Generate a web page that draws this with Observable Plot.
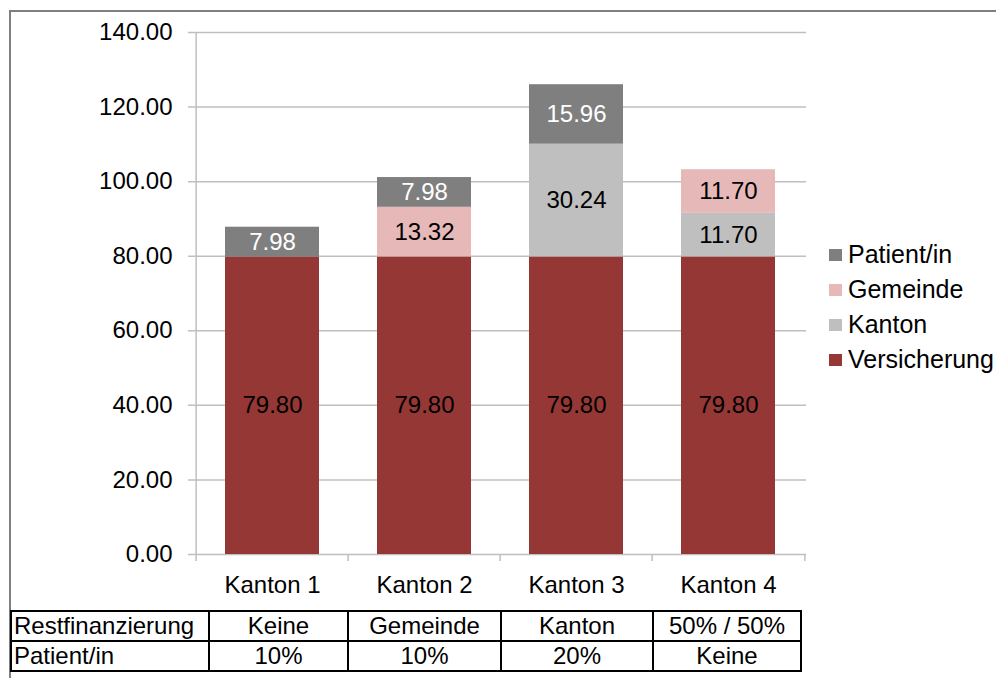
<!DOCTYPE html>
<html>
<head>
<meta charset="utf-8">
<script src="https://cdn.jsdelivr.net/npm/d3@7"></script>
<script src="https://cdn.jsdelivr.net/npm/@observablehq/plot@0.6"></script>
<style>
  html, body { margin: 0; padding: 0; background: #fff; }
  body { font-family: Arial, "Liberation Sans", sans-serif; }
  #wrap { position: relative; width: 996px; height: 678px; overflow: hidden; }
  #border { position: absolute; left: 9px; top: 10px; width: 1000px; height: 700px;
            border-top: 2px solid #7f7f7f; border-left: 2px solid #7f7f7f; }
  #chart { position: absolute; left: 0; top: 0; }
  #legend { position: absolute; left: 829px; top: 237px; font-size: 25px; color: #000; }
  #legend .row { display: flex; align-items: center; height: 35px; }
  #legend .sw { width: 13px; height: 12px; margin-right: 6px; }
  #tbl { position: absolute; left: 10px; top: 610px; border-collapse: collapse; table-layout: fixed;
         font-size: 24px; color: #000; background: #fff; }
  #tbl td { border: 2px solid #000; padding: 0 2px; height: 28px; line-height: 28px; text-align: center; white-space: nowrap; }
  #tbl td.head { text-align: left; }
</style>
</head>
<body>
<div id="wrap">
  <div id="border"></div>
  <div id="chart"></div>
  <div id="legend"></div>
  <table id="tbl"></table>
</div>
<script>
// ---- data ----
const categories = ["Kanton 1", "Kanton 2", "Kanton 3", "Kanton 4"];
const seriesNames = ["Versicherung", "Kanton", "Gemeinde", "Patient/in"]; // bottom -> top
const versicherung = [79.80, 79.80, 79.80, 79.80];
const kanton = [0, 0, 30.24, 11.70];
const gemeinde = [0, 13.32, 0, 11.70];
const patient = [7.98, 7.98, 15.96, 0];
const seriesColors = ["#953735", "#bfbfbf", "#e6b9b8", "#7f7f7f"];
const yTicks = [0, 20, 40, 60, 80, 100, 120, 140];
const tableRowLabels = ["Restfinanzierung", "Patient/in"];
const restfinanzierung = ["Keine", "Gemeinde", "Kanton", "50% / 50%"];
const patientAnteil = ["10%", "10%", "20%", "Keine"];

// ---- build stacked rows ----
const seriesValues = [versicherung, kanton, gemeinde, patient];
const rows = [];
categories.forEach((cat, i) => {
  let base = 0;
  seriesNames.forEach((s, j) => {
    const v = seriesValues[j][i];
    if (v > 0) {
      rows.push({cat, series: s, value: v, y1: base, y2: base + v, mid: base + v / 2});
      base += v;
    }
  });
});

// ---- layout ----
const W = 996, H = 600, mL = 195, mR = 190, mT = 32, mB = 46;
const step = (W - mL - mR) / categories.length;

const plot = Plot.plot({
  width: W, height: H,
  marginLeft: mL, marginRight: mR, marginTop: mT, marginBottom: mB,
  style: {fontFamily: "Arial, 'Liberation Sans', sans-serif", fontSize: "24px", color: "#000", background: "transparent", overflow: "visible"},
  x: {domain: categories, paddingInner: 0.38, paddingOuter: 0.19, label: null},
  y: {domain: [0, 140], label: null},
  color: {domain: seriesNames, range: seriesColors},
  marks: [
    Plot.ruleY(yTicks, {stroke: "#bfbfbf", strokeWidth: 1.5, insetLeft: -7}),
    Plot.ruleX([categories[0]], {dx: -step / 2, stroke: "#bfbfbf", strokeWidth: 1.5, insetBottom: -7}),
    Plot.ruleX(categories.slice(1), {y1: 0, y2: 0, dx: -step / 2, stroke: "#bfbfbf", strokeWidth: 1.5, insetBottom: -7}),
    Plot.ruleX([categories[categories.length - 1]], {y1: 0, y2: 0, dx: step / 2, stroke: "#bfbfbf", strokeWidth: 1.5, insetBottom: -7}),
    Plot.barY(rows, {x: "cat", y1: "y1", y2: "y2", fill: "series"}),
    Plot.text(rows.filter(d => d.series !== "Patient/in"), {x: "cat", y: "mid", text: d => d.value.toFixed(2), fill: "#000", fontSize: 24}),
    Plot.text(rows.filter(d => d.series === "Patient/in"), {x: "cat", y: "mid", text: d => d.value.toFixed(2), fill: "#fff", fontSize: 24}),
    Plot.axisY({ticks: yTicks, tickFormat: d => d.toFixed(2), tickSize: 0, tickPadding: 23, fontSize: 24}),
    Plot.axisX({tickSize: 0, tickPadding: 21, fontSize: 24})
  ]
});
document.getElementById("chart").appendChild(plot);

// ---- legend (top -> bottom = reverse stack order) ----
const legend = document.getElementById("legend");
seriesNames.slice().reverse().forEach(s => {
  const row = document.createElement("div");
  row.className = "row";
  const sw = document.createElement("div");
  sw.className = "sw";
  sw.style.background = seriesColors[seriesNames.indexOf(s)];
  const lab = document.createElement("span");
  lab.textContent = s;
  row.appendChild(sw); row.appendChild(lab);
  legend.appendChild(row);
});

// ---- table ----
const tbl = document.getElementById("tbl");
const colWidths = [198, 139, 153, 152, 148];
const cg = document.createElement("colgroup");
colWidths.forEach(w => { const c = document.createElement("col"); c.style.width = w + "px"; cg.appendChild(c); });
tbl.appendChild(cg);
[restfinanzierung, patientAnteil].forEach((vals, r) => {
  const tr = document.createElement("tr");
  const th = document.createElement("td");
  th.className = "head";
  th.textContent = tableRowLabels[r];
  tr.appendChild(th);
  vals.forEach(v => { const td = document.createElement("td"); td.textContent = v; tr.appendChild(td); });
  tbl.appendChild(tr);
});
</script>
</body>
</html>
